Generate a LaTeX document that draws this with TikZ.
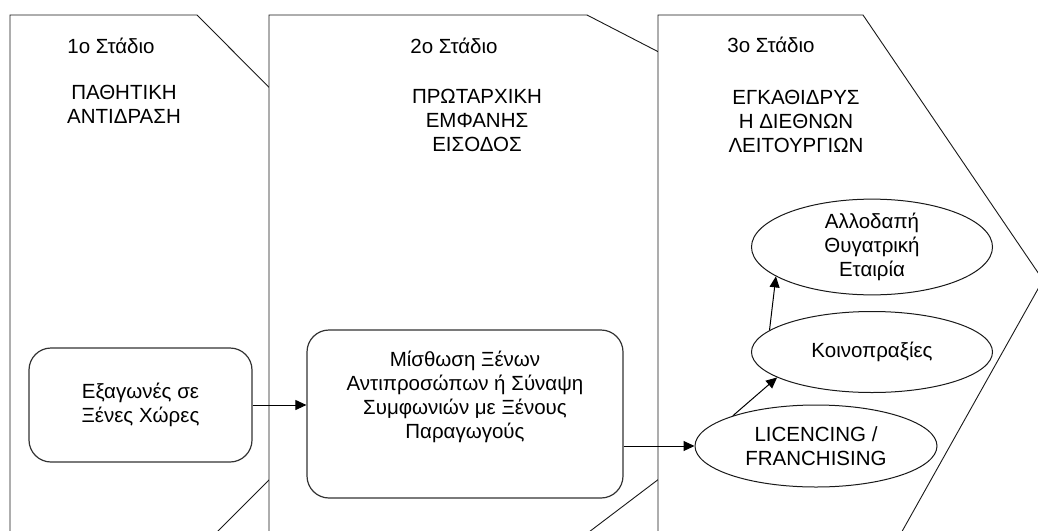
\documentclass[tikz,border=0pt]{standalone}
\usepackage{fontspec}
\setmainfont{Liberation Sans}
\usetikzlibrary{shapes.geometric,arrows.meta}

\begin{document}
\begin{tikzpicture}[
  x=1pt, y=-1pt,
  every node/.style = {font=\fontsize{20.5}{24}\selectfont, align=center, inner sep=0pt},
  panel/.style = {draw=black!90, fill=white, line width=0.9pt},
  box/.style   = {draw=black!80, rounded corners=22pt, line width=1.2pt},
  oval/.style  = {draw=black!90, ellipse, line width=1pt},
  arr/.style   = {-{Triangle[length=11pt,width=10pt]}, line width=1pt},
]
\useasboundingbox (0,0) rectangle (1038,530);
\clip (0,0) rectangle (1038,530);

%% ---------- STADIA ----------
\draw[panel] (10,15) -- (197,15) -- (465,284) -- (189,560) -- (10,560) -- cycle;
\draw[panel] (269,15) -- (587,15) -- (680,63) -- (680,463) -- (552,560) -- (269,560) -- cycle;
\draw[panel] (658,15) -- (863,15) -- (1043,280) -- (886,560) -- (658,560) -- cycle;

\node (T1) at (111,46) {1ο Στάδιο};
\node (S1) at (124,104) {ΠΑΘΗΤΙΚΗ\\ΑΝΤΙΔΡΑΣΗ};

\node (T2) at (454,46) {2ο Στάδιο};
\node (S2) at (477,120) {ΠΡΩΤΑΡΧΙΚΗ\\ΕΜΦΑΝΗΣ\\ΕΙΣΟΔΟΣ};

\node (T3) at (771,45) {3ο Στάδιο};
\node (S3) at (796,121) {ΕΓΚΑΘΙΔΡΥΣ\\Η ΔΙΕΘΝΩΝ\\ΛΕΙΤΟΥΡΓΙΩΝ};

%% ---------- MORFES ----------
\node[box, minimum width=223pt, minimum height=114pt] (exp) at (140.5,405)
  {Εξαγωνές σε\\Ξένες Χώρες};

\node[box, minimum width=316pt, minimum height=168pt] (mis) at (465,414) {};
\node (misT) at (465,397)
  {Μίσθωση Ξένων\\Αντιπροσώπων ή Σύναψη\\Συμφωνιών με Ξένους\\Παραγωγούς};

\node[oval, minimum width=242pt, minimum height=82pt] (lic) at (816,446)
  {LICENCING /\\FRANCHISING};
\node[oval, minimum width=241pt, minimum height=81pt] (koin) at (872,352)
  {Κοινοπραξίες};
\node[oval, minimum width=241pt, minimum height=94pt] (all) at (872,247)
  {Αλλοδαπή\\Θυγατρική\\Εταιρία};

\draw[arr] (exp.east) -- (exp.east -| mis.west);
\draw[arr] (lic.west -| mis.east) -- (lic.west);
\draw[arr] (lic.160) -- (koin.195);
\draw[arr] (koin.168) -- (all.197);

\end{tikzpicture}
\end{document}
